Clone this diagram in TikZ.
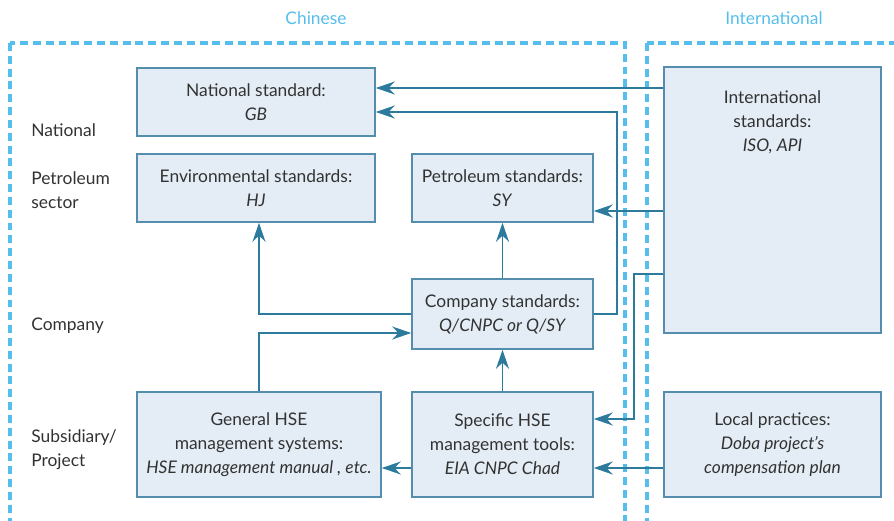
\documentclass[tikz,border=0pt]{standalone}
\usepackage{fontspec}
\setmainfont{Lato}
\usetikzlibrary{arrows.meta}
\definecolor{dashblue}{RGB}{86,190,236}
\definecolor{linkblue}{RGB}{44,122,156}
\definecolor{boxfill}{RGB}{228,237,245}
\definecolor{boxline}{RGB}{84,141,174}
\definecolor{txt}{RGB}{50,50,50}
\tikzset{
	box/.style={draw=boxline, line width=0.9pt, fill=boxfill, align=center, text=txt, inner sep=2pt},
	arr/.style={draw=linkblue, line width=1pt, -{Stealth[length=3.8mm,width=2.6mm]}},
	region/.style={draw=dashblue, line width=1.9pt, dash pattern=on 4.5pt off 2.8pt},
	rowlbl/.style={anchor=west, align=left, inner sep=0pt, text=txt},
}
\begin{document}
\begin{tikzpicture}[x=0.02cm,y=-0.02cm,font=\fontsize{9.9}{13.6}\selectfont]
	\useasboundingbox (0,0) rectangle (894,521);
	\clip (0,0) rectangle (894,521);
	\draw[region] (10,43) rectangle (625,540);
	\draw[region] (647,43) rectangle (910,540);
	\node[text=dashblue] (cn) at (316,18) {Chinese};
	\node[text=dashblue] (in) at (774,18) {International};
	\node[rowlbl] (lnat) at (31,130) {National};
	\node[rowlbl] (lpet) at (31,190) {Petroleum\\sector};
	\node[rowlbl] (lcomp) at (31,326) {Company};
	\node[rowlbl] (lsub) at (31,450) {Subsidiary/\\Project};
	\node[box, minimum width=4.76cm, minimum height=1.36cm] (nat) at (256,102) {National standard:\\\textit{GB}};
	\node[box, minimum width=4.76cm, minimum height=1.36cm] (env) at (256,188) {Environmental standards:\\\textit{HJ}};
	\node[box, minimum width=3.62cm, minimum height=1.36cm] (pet) at (502.5,188) {Petroleum standards:\\\textit{SY}};
	\node[box, minimum width=4.34cm, minimum height=5.32cm,
		label={[anchor=north, align=center, text=txt, yshift=-0.36cm]north:International\\standards:\\\textit{ISO, API}}] (intl) at (772.5,200) {};
	\node[box, minimum width=3.62cm, minimum height=1.4cm] (comp) at (502.5,314) {Company standards:\\\textit{Q/CNPC or Q/SY}};
	\node[box, minimum width=4.88cm, minimum height=2.1cm] (gen) at (259,444.5) {General HSE\\management systems:\\\textit{HSE management manual , etc.}};
	\node[box, minimum width=3.62cm, minimum height=2.1cm] (spec) at (502.5,444.5) {Specific HSE\\management tools:\\\textit{EIA CNPC Chad}};
	\node[box, minimum width=4.34cm, minimum height=2.1cm] (loc) at (772.5,444.5) {Local practices:\\\textit{Doba project's}\\\textit{compensation plan}};
	\draw[arr] (intl.west |- 0,88) -- (nat.east |- 0,88);
	\draw[arr] (comp.east) -| (617,112) -- (nat.east |- 0,112);
	\draw[arr] (intl.west |- 0,211) -- (pet.east |- 0,211);
	\draw[arr] (intl.west |- 0,274) -| (634,419) -- (spec.east |- 0,419);
	\draw[arr] (loc.west |- 0,468) -- (spec.east |- 0,468);
	\draw[arr] (spec.west |- 0,468) -- (gen.east |- 0,468);
	\draw[arr] (spec.north) -- (comp.south);
	\draw[arr] (comp.north) -- (pet.south);
	\draw[arr] (comp.west) -| (gen.north |- env.south);
	\draw[arr] (gen.north) |- (comp.west |- 0,333);
\end{tikzpicture}
\end{document}
